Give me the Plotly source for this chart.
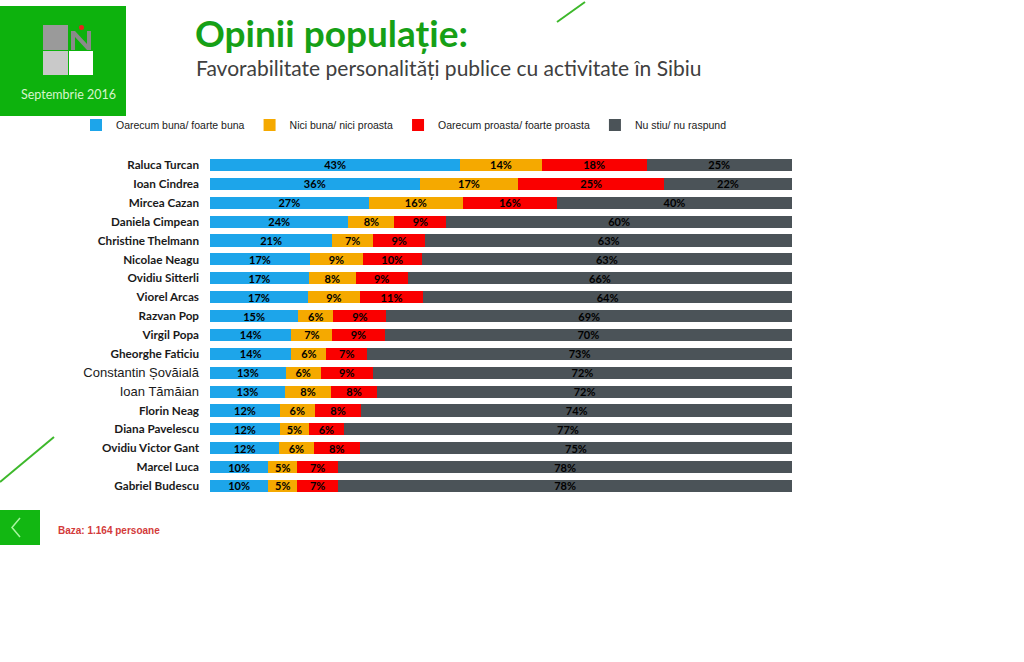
import plotly.graph_objects as go

# ---------------- data ----------------
names = [
    "Raluca Turcan", "Ioan Cindrea", "Mircea Cazan", "Daniela Cimpean",
    "Christine Thelmann", "Nicolae Neagu", "Ovidiu Sitterli", "Viorel Arcas",
    "Razvan Pop", "Virgil Popa", "Gheorghe Faticiu", "Constantin Șovăială",
    "Ioan Tămăian", "Florin Neag", "Diana Pavelescu", "Ovidiu Victor Gant",
    "Marcel Luca", "Gabriel Budescu",
]
good    = [43, 36, 27, 24, 21, 17, 17, 17, 15, 14, 14, 13, 13, 12, 12, 12, 10, 10]
neutral = [14, 17, 16,  8,  7,  9,  8,  9,  6,  7,  6,  6,  8,  6,  5,  6,  5,  5]
bad     = [18, 25, 16,  9,  9, 10,  9, 11,  9,  9,  7,  9,  8,  8,  6,  8,  7,  7]
dunno   = [25, 22, 40, 60, 63, 63, 66, 64, 69, 70, 73, 72, 72, 74, 77, 75, 78, 78]
series_names = [
    "Oarecum buna/ foarte buna",
    "Nici buna/ nici proasta",
    "Oarecum proasta/ foarte proasta",
    "Nu stiu/ nu raspund",
]
alt_font_names = ["Constantin Șovăială", "Ioan Tămăian"]

title_text = "Opinii populație:"
subtitle_text = "Favorabilitate personalități publice cu activitate în Sibiu"
date_text = "Septembrie 2016"
base_text = "Baza: 1.164 persoane"

# ---------------- style ----------------
palette = ["#1DA5EA", "#F5A900", "#FA0000", "#4B5358"]
W, H = 1024, 662
GREEN = "#0DB20D"


def px(x):
    return x / W


def py(y):
    return 1 - y / H


fig = go.Figure()
for vals, nm, col in zip([good, neutral, bad, dunno], series_names, palette):
    fig.add_trace(go.Bar(
        y=names, x=vals, name=nm, orientation="h",
        marker=dict(color=col, line=dict(width=0)),
        width=0.64,
        text=[f"{v}%" for v in vals],
        textposition="inside", insidetextanchor="middle", textangle=0,
        constraintext="none",
        textfont=dict(family="Lato", size=11, color="black", weight="bold"),
        hovertemplate="%{y}: %{text}<extra>" + nm + "</extra>",
    ))

ticktext = []
for n in names:
    if n in alt_font_names:
        ticktext.append(
            f"<span style='font-family:Liberation Sans;font-weight:normal;font-size:13px'>{n}</span>")
    else:
        ticktext.append(n)

row_top, row_bot = 165, 486
step = (row_bot - row_top) / (len(names) - 1)

fig.update_layout(
    width=W, height=H,
    margin=dict(l=0, r=0, t=0, b=0),
    paper_bgcolor="white", plot_bgcolor="white",
    barmode="stack", barnorm="percent",
    showlegend=True,
    legend=dict(
        orientation="h", x=px(76), y=py(125), xanchor="left", yanchor="middle",
        font=dict(family="Liberation Sans", size=10.5, color="#1a1a1a"),
        traceorder="normal", itemwidth=30, bgcolor="rgba(0,0,0,0)",
    ),
    xaxis=dict(
        domain=[px(210), px(792)], range=[0, 100],
        showgrid=False, zeroline=False, showticklabels=False, showline=False,
    ),
    yaxis=dict(
        domain=[py(row_bot + step / 2), py(row_top - step / 2)],
        range=[len(names) - 0.5, -0.5],
        tickmode="array", tickvals=names, ticktext=ticktext,
        tickfont=dict(family="Lato", size=11.7, color="#1a1a1a", weight="bold"),
        showgrid=False, zeroline=False, showline=False, ticks="",
        ticklabelstandoff=10,
    ),
)

shapes = [
    # green header box
    dict(type="rect", xref="paper", yref="paper", x0=px(0), x1=px(126), y0=py(116), y1=py(6),
         fillcolor=GREEN, line=dict(width=0), layer="below"),
    # logo squares
    dict(type="rect", xref="paper", yref="paper", x0=px(43), x1=px(68), y0=py(50), y1=py(25),
         fillcolor="#9A9A9A", line=dict(width=0)),
    dict(type="rect", xref="paper", yref="paper", x0=px(43), x1=px(68), y0=py(75), y1=py(51),
         fillcolor="#C9C9C9", line=dict(width=0)),
    dict(type="rect", xref="paper", yref="paper", x0=px(69), x1=px(93), y0=py(75), y1=py(51),
         fillcolor="#FFFFFF", line=dict(width=0)),
    # N letter
    dict(type="path", xref="paper", yref="paper",
         path=("M {a},{b} L {a},{c} L {d},{c} L {e},{f} L {e},{c} L {g},{c} L {g},{b} "
               "L {e},{b} L {d},{h} L {d},{b} Z").format(
             a=px(71), b=py(50), c=py(31), d=px(75), e=px(87), f=py(44), g=px(91), h=py(37)),
         fillcolor="#8A8A8A", line=dict(width=0)),
    dict(type="circle", xref="paper", yref="paper", x0=px(79), x1=px(84), y0=py(30), y1=py(25),
         fillcolor="#E8231C", line=dict(width=0)),
    # decorative green lines
    dict(type="line", xref="paper", yref="paper", x0=px(557), y0=py(22), x1=px(585), y1=py(2),
         line=dict(color="#3DB82B", width=2)),
    dict(type="line", xref="paper", yref="paper", x0=px(0), y0=py(482), x1=px(54), y1=py(437),
         line=dict(color="#3DB82B", width=2)),
    # back button
    dict(type="rect", xref="paper", yref="paper", x0=px(0), x1=px(40), y0=py(545), y1=py(510),
         fillcolor="#12B712", line=dict(width=0)),
    dict(type="path", xref="paper", yref="paper",
         path="M {a},{b} L {c},{d} L {a},{e}".format(
             a=px(20), b=py(518), c=px(12), d=py(527.5), e=py(537)),
         line=dict(color="#A8F5A0", width=1.5)),
]
fig.update_layout(shapes=shapes)

annotations = [
    dict(text=title_text, xref="paper", yref="paper", x=px(193), y=py(32),
         xanchor="left", yanchor="middle", showarrow=False,
         font=dict(family="Lato", size=37, color="#16A016", weight="bold")),
    dict(text=subtitle_text, xref="paper", yref="paper", x=px(194), y=py(67),
         xanchor="left", yanchor="middle", showarrow=False,
         font=dict(family="Lato", size=21, color="#404040")),
    dict(text=date_text, xref="paper", yref="paper", x=px(68), y=py(95),
         xanchor="center", yanchor="middle", showarrow=False,
         font=dict(family="Lato", size=12.5, color="#D5F5CC")),
    dict(text=base_text, xref="paper", yref="paper", x=px(56), y=py(530),
         xanchor="left", yanchor="middle", showarrow=False,
         font=dict(family="Liberation Sans", size=10, color="#D33A3A", weight="bold")),
]
fig.update_layout(annotations=annotations)

fig.write_html("out.html", config={"displayModeBar": False},
               post_script="document.body.style.margin='0';")
